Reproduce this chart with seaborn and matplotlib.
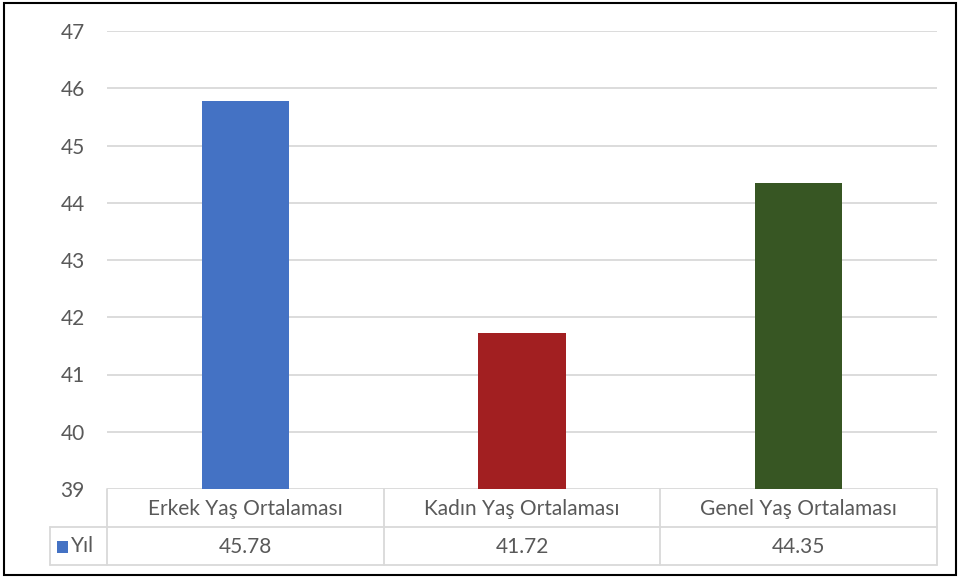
import matplotlib
matplotlib.use("Agg")
import matplotlib.pyplot as plt
from matplotlib.lines import Line2D
from matplotlib.patches import Rectangle
import seaborn as sns
import pandas as pd

categories = ["Erkek Yaş Ortalaması", "Kadın Yaş Ortalaması", "Genel Yaş Ortalaması"]
values = [45.78, 41.72, 44.35]
series_name = "Yıl"
colors = ["#4472C4", "#A21F21", "#375623"]
yticks = [39, 40, 41, 42, 43, 44, 45, 46, 47]

sns.set_theme(style="white")
plt.rcParams['font.family'] = ['Lato', 'DejaVu Sans']

W, H = 961, 578
FS = 15
TXT = "#595959"
fig = plt.figure(figsize=(W / 100, H / 100), dpi=100)

def fx(px):
    return px / W

def fy(py):
    return 1 - py / H

L, R, T, B = 107, 937, 31, 489
ax = fig.add_axes([fx(L), fy(B), fx(R) - fx(L), fy(T) - fy(B)])

df = pd.DataFrame({"cat": categories, "val": values})
sns.barplot(data=df, x="cat", y="val", hue="cat", palette=colors, order=categories,
            hue_order=categories, width=0.315, legend=False, ax=ax, zorder=3,
            saturation=1, linewidth=0)

ax.set_ylim(39, 47)
ax.set_xlim(-0.5, 2.5)
ax.set_yticks(yticks)
ax.set_yticklabels([str(t) for t in yticks], fontsize=FS, color=TXT)
ax.set_xticks([])
ax.set_xlabel("")
ax.set_ylabel("")
ax.tick_params(axis="y", length=0, pad=16)
for s in ax.spines.values():
    s.set_visible(False)
ax.yaxis.grid(True, color="#D9D9D9", linewidth=1.3, zorder=0)
ax.set_axisbelow(True)

grid_c = "#D9D9D9"
row1, row2 = 527, 565
legx = 50
colx = [107, 384, 660, 937]

def hline(x0, x1, y):
    fig.add_artist(Line2D([fx(x0), fx(x1)], [fy(y), fy(y)], color=grid_c, lw=1.3))

def vline(x, y0, y1):
    fig.add_artist(Line2D([fx(x), fx(x)], [fy(y0), fy(y1)], color=grid_c, lw=1.3))

hline(legx, R, row1)
hline(legx, R, row2)
for x in colx:
    vline(x, B, row2)
vline(legx, row1, row2)

for i, (c, v) in enumerate(zip(categories, values)):
    cx = (colx[i] + colx[i + 1]) / 2
    fig.text(fx(cx), fy((B + row1) / 2 + 1), c, ha="center", va="center",
             fontsize=FS, color=TXT)
    fig.text(fx(cx), fy((row1 + row2) / 2 + 1), f"{v:.2f}", ha="center", va="center",
             fontsize=FS, color=TXT)

# legend key in table
fig.add_artist(Rectangle((fx(57), fy(553)), fx(11), fy(541) - fy(553),
                         facecolor=colors[0], edgecolor="none"))
fig.text(fx(71), fy(546.5), series_name, ha="left", va="center", fontsize=FS, color=TXT)

# outer border
fig.add_artist(Rectangle((fx(4), fy(575)), fx(952), fy(3) - fy(575), fill=False,
                         edgecolor="black", lw=1.5))

fig.savefig("out.png", dpi=100)
